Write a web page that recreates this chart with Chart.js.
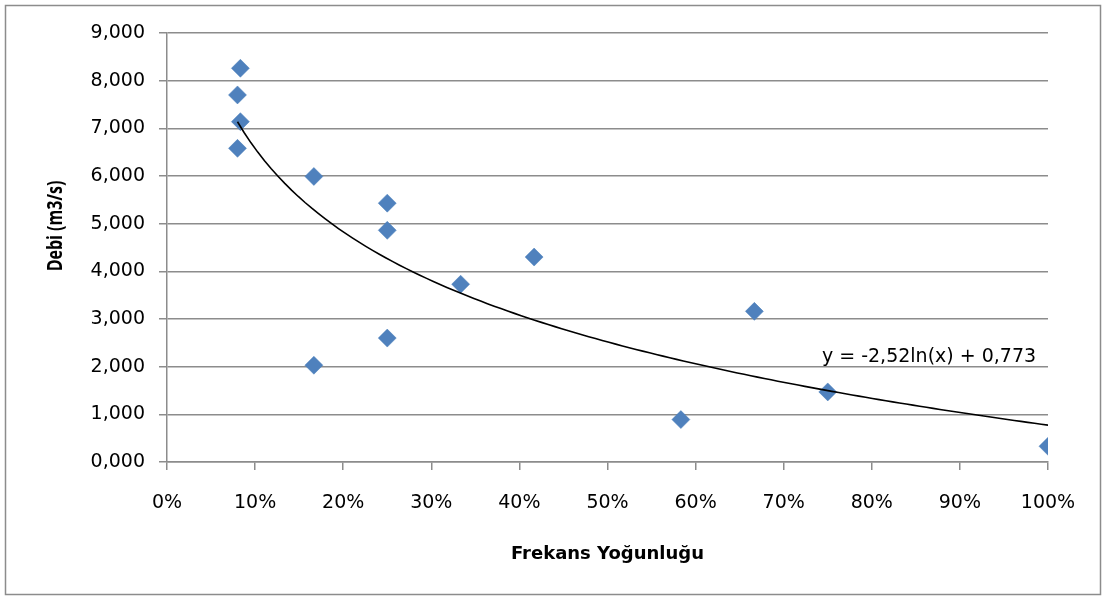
<!DOCTYPE html>
<html>
<head>
<meta charset="utf-8">
<script src="https://cdn.jsdelivr.net/npm/chart.js@4/dist/chart.umd.min.js"></script>
<style>
  html, body { margin: 0; padding: 0; background: #fff; }
  #wrap { position: relative; width: 1103px; height: 597px; }
</style>
</head>
<body>
<div id="wrap"><canvas id="debiChart" width="1103" height="597"></canvas></div>
<script>
// frekans yoğunluğu (0-1) ve debi değerleri
const freq = [0.0833, 0.08, 0.0833, 0.08, 0.1667, 0.25, 0.25, 0.4167, 0.3333, 0.6667, 0.25, 0.1667, 0.75, 0.5833, 1.0];
const debi = [8.26, 7.70, 7.14, 6.58, 5.99, 5.43, 4.86, 4.30, 3.73, 3.16, 2.60, 2.03, 1.47, 0.89, 0.33];

// logaritmik eğilim çizgisi: y = a ln(x) + b
const trendA = -2.52;
const trendB = 0.773;
const trendLabel = 'y = -2,52ln(x) + 0,773';
const trendFrom = 0.08;
const trendTo = 1.0;

const xTitle = 'Frekans Yoğunluğu';
const yTitle = 'Debi (m3/s)';

const trendPts = [];
for (let i = 0; i <= 120; i++) {
  const x = trendFrom + (trendTo - trendFrom) * i / 120;
  trendPts.push({ x: x, y: trendA * Math.log(x) + trendB });
}

const points = freq.map((f, i) => ({ x: f, y: debi[i] }));

const decorations = {
  id: 'decorations',
  beforeDraw(chart) {
    const ctx = chart.ctx;
    ctx.save();
    ctx.fillStyle = '#fff';
    ctx.fillRect(0, 0, chart.width, chart.height);
    ctx.strokeStyle = '#8c8c8c';
    ctx.lineWidth = 1.5;
    ctx.strokeRect(5.5, 5.5, 1095, 589);
    ctx.restore();
  },
  afterDraw(chart) {
    const ctx = chart.ctx;
    const xs = chart.scales.x, ys = chart.scales.y;
    const area = chart.chartArea;
    ctx.save();
    ctx.fillStyle = '#000';
    // eğilim denklemi
    ctx.font = '19px "DejaVu Sans"';
    ctx.textAlign = 'left';
    ctx.textBaseline = 'alphabetic';
    ctx.fillText(trendLabel, xs.getPixelForValue(0.7434), ys.getPixelForValue(2.1));
    // eksen başlıkları
    ctx.font = 'bold 18px "DejaVu Sans"';
    ctx.textAlign = 'center';
    ctx.fillText(xTitle, (area.left + area.right) / 2, 559);
    ctx.translate(62, 226);
    ctx.scale(1.3, 1);
    ctx.rotate(-Math.PI / 2);
    ctx.font = 'bold 16px "Open Sans"';
    ctx.fillText(yTitle, 0, 0);
    ctx.restore();
  }
};

new Chart(document.getElementById('debiChart'), {
  type: 'scatter',
  data: {
    datasets: [{
      type: 'line',
      data: trendPts,
      borderColor: '#000',
      borderWidth: 1.6,
      pointRadius: 0,
      fill: false,
      tension: 0,
      order: 0
    }, {
      data: points,
      pointStyle: 'rectRot',
      pointRadius: 9,
      pointHoverRadius: 9,
      backgroundColor: '#4f81bd',
      borderColor: '#4a7ebb',
      borderWidth: 0.5,
      order: 1
    }]
  },
  options: {
    responsive: false,
    animation: false,
    layout: { padding: { left: 0, top: 33, right: 55, bottom: 0 } },
    plugins: {
      legend: { display: false },
      tooltip: { enabled: false }
    },
    scales: {
      x: {
        type: 'linear',
        min: 0,
        max: 1,
        afterFit(scale) { scale.height = 135; },
        ticks: {
          stepSize: 0.1,
          color: '#000',
          padding: 22,
          font: { family: 'DejaVu Sans', size: 19 },
          callback: v => Math.round(v * 100) + '%'
        },
        grid: {
          drawOnChartArea: false,
          drawTicks: true,
          tickLength: 8,
          color: '#8c8c8c',
          lineWidth: 1.5
        },
        border: { color: '#8c8c8c', width: 1.5 }
      },
      y: {
        min: 0,
        max: 9,
        afterFit(scale) { scale.width = 167; },
        ticks: {
          stepSize: 1,
          color: '#000',
          padding: 14,
          font: { family: 'DejaVu Sans', size: 19 },
          callback: v => v.toFixed(3).replace('.', ',')
        },
        grid: {
          drawTicks: true,
          tickLength: 8,
          color: '#8c8c8c',
          lineWidth: 1.5
        },
        border: { color: '#8c8c8c', width: 1.5 }
      }
    }
  },
  plugins: [decorations]
});
</script>
</body>
</html>
